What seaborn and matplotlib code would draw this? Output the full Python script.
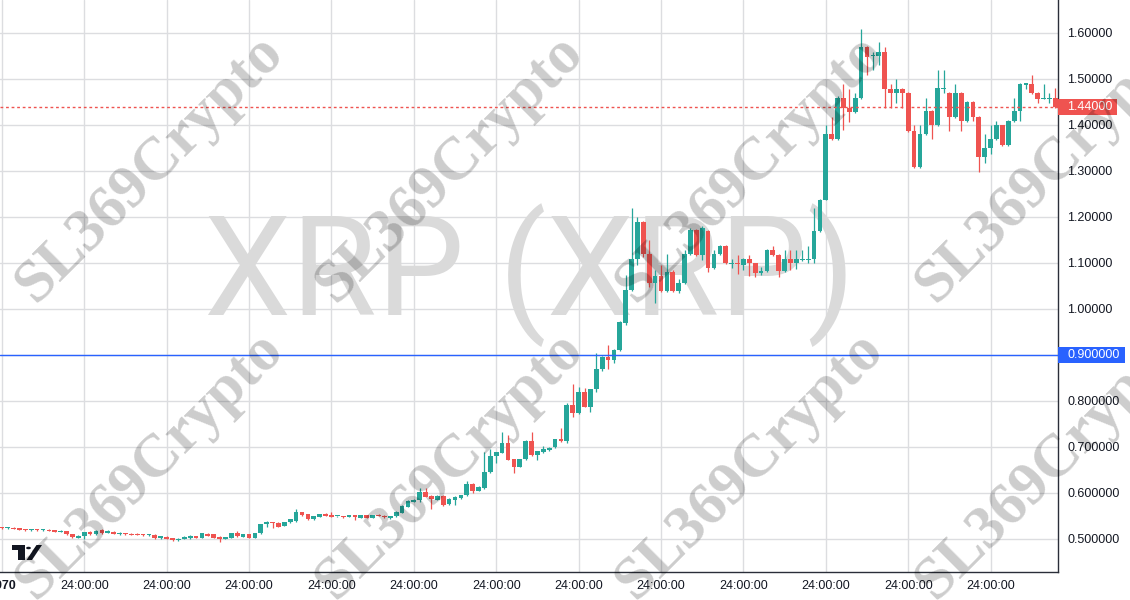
# XRP candle chart, TradingView look
import numpy as np
import pandas as pd
import matplotlib
matplotlib.use("Agg")
import matplotlib.pyplot as plt
import matplotlib.transforms as mtransforms
from matplotlib.patches import Rectangle, Polygon, Circle
import seaborn as sns

# data (one candle per slot)
opens = [
    .525, .523, .524, .523, .521, .519, .520, .519, .520, .519,
    .516, .517, .510, .503, .506, .515, .510, .519, .513, .516,
    .510, .513, .511, .511, .510, .508, .509, .502, .505, .502,
    .497, .500, .502, .506, .503, .511, .510, .505, .500, .503,
    .513, .505, .510, .503, .512, .532, .535, .535, .529, .536,
    .539, .558, .554, .544, .548, .555, .552, .549, .549, .548,
    .552, .546, .552, .546, .552, .551, .545, .549, .557, .570,
    .581, .585, .602, .593, .585, .594, .575, .585, .589, .595,
    .620, .605, .610, .645, .680, .688, .709, .673, .657, .673,
    .714, .682, .689, .693, .701, .718, .712, .792, .773, .820,
    .787, .825, .869, .895, .890, .910, .970, 1.041, 1.108, 1.189,
    1.119, 1.057, 1.072, 1.039, 1.081, 1.039, 1.056, 1.119, 1.171, 1.117,
    1.170, 1.090, 1.119, 1.138, 1.098, 1.100, 1.096, 1.108, 1.099, 1.078,
    1.082, 1.128, 1.118, 1.083, 1.108, 1.099, 1.106, 1.106, 1.108, 1.169,
    1.238, 1.380, 1.369, 1.459, 1.437, 1.428, 1.459, 1.570, 1.550, 1.549,
    1.559, 1.479, 1.469, 1.479, 1.469, 1.387, 1.308, 1.380, 1.431, 1.399,
    1.479, 1.470, 1.418, 1.470, 1.408, 1.450, 1.418, 1.330, 1.350, 1.370,
    1.399, 1.357, 1.409, 1.431, 1.488, 1.489, 1.469, 1.457, 1.457, 1.459,
]
highs = [
    .527, .527, .525, .524, .522, .522, .521, .521, .521, .520,
    .519, .518, .511, .508, .516, .517, .519, .521, .519, .517,
    .515, .514, .512, .512, .511, .511, .510, .507, .506, .503,
    .502, .506, .508, .507, .513, .512, .511, .506, .505, .514,
    .517, .511, .511, .514, .533, .539, .536, .536, .537, .544,
    .566, .559, .555, .550, .555, .556, .558, .551, .550, .553,
    .553, .553, .553, .553, .554, .553, .551, .560, .573, .585,
    .586, .610, .610, .595, .595, .595, .589, .593, .596, .625,
    .621, .615, .690, .696, .690, .733, .725, .674, .674, .716,
    .733, .692, .703, .699, .718, .742, .796, .838, .831, .828,
    .826, .904, .897, .921, .912, .974, 1.073, 1.219, 1.200, 1.191,
    1.150, 1.085, 1.095, 1.119, 1.085, 1.066, 1.128, 1.175, 1.173, 1.180,
    1.172, 1.128, 1.140, 1.140, 1.109, 1.118, 1.110, 1.118, 1.100, 1.092,
    1.130, 1.138, 1.119, 1.128, 1.128, 1.128, 1.128, 1.138, 1.219, 1.240,
    1.399, 1.418, 1.463, 1.489, 1.479, 1.469, 1.608, 1.572, 1.559, 1.580,
    1.570, 1.489, 1.499, 1.481, 1.471, 1.399, 1.399, 1.459, 1.433, 1.519,
    1.519, 1.472, 1.489, 1.472, 1.452, 1.452, 1.420, 1.380, 1.399, 1.408,
    1.401, 1.411, 1.459, 1.491, 1.491, 1.509, 1.471, 1.489, 1.469, 1.480,
]
lows = [
    .522, .521, .521, .519, .518, .518, .518, .518, .517, .515,
    .515, .509, .502, .502, .500, .509, .509, .511, .512, .510,
    .509, .509, .508, .508, .507, .507, .500, .501, .500, .495,
    .496, .499, .501, .502, .502, .506, .502, .494, .499, .502,
    .505, .504, .502, .502, .511, .527, .524, .526, .528, .535,
    .536, .551, .542, .541, .547, .549, .547, .547, .546, .547,
    .541, .545, .545, .545, .550, .546, .544, .548, .556, .569,
    .580, .581, .591, .566, .584, .572, .574, .574, .588, .594,
    .599, .604, .609, .644, .666, .687, .671, .644, .656, .672,
    .681, .672, .688, .692, .698, .711, .708, .766, .772, .787,
    .776, .819, .866, .870, .882, .908, .966, 1.040, 1.095, 1.113,
    1.048, 1.012, 1.037, 1.037, 1.037, 1.035, 1.055, 1.117, 1.115, 1.106,
    1.081, 1.088, 1.117, 1.097, 1.089, 1.077, 1.085, 1.072, 1.070, 1.073,
    1.080, 1.116, 1.069, 1.081, 1.085, 1.087, 1.104, 1.100, 1.099, 1.167,
    1.236, 1.367, 1.367, 1.389, 1.407, 1.426, 1.457, 1.508, 1.519, 1.530,
    1.438, 1.438, 1.448, 1.438, 1.385, 1.306, 1.306, 1.378, 1.369, 1.397,
    1.469, 1.388, 1.416, 1.388, 1.406, 1.408, 1.298, 1.318, 1.338, 1.368,
    1.355, 1.355, 1.407, 1.408, 1.479, 1.467, 1.448, 1.456, 1.448, 1.438,
]
closes = [
    .523, .525, .522, .520, .519, .520, .519, .520, .518, .516,
    .518, .510, .504, .507, .515, .510, .518, .512, .517, .511,
    .514, .510, .509, .509, .509, .510, .502, .506, .501, .497,
    .501, .505, .507, .503, .512, .507, .503, .500, .504, .513,
    .506, .510, .503, .513, .532, .536, .534, .527, .536, .543,
    .558, .552, .543, .549, .554, .550, .548, .550, .548, .552,
    .548, .552, .546, .552, .551, .547, .550, .559, .572, .582,
    .585, .602, .592, .586, .594, .573, .588, .592, .595, .620,
    .605, .614, .645, .680, .689, .709, .672, .657, .673, .714,
    .682, .691, .696, .698, .717, .712, .792, .773, .820, .788,
    .825, .869, .895, .890, .911, .972, 1.041, 1.108, 1.189, 1.119,
    1.057, 1.072, 1.039, 1.081, 1.039, 1.057, 1.119, 1.172, 1.117, 1.177,
    1.090, 1.119, 1.138, 1.099, 1.100, 1.097, 1.108, 1.099, 1.078, 1.083,
    1.128, 1.118, 1.083, 1.108, 1.099, 1.108, 1.109, 1.109, 1.169, 1.238,
    1.380, 1.369, 1.459, 1.437, 1.428, 1.459, 1.570, 1.548, 1.552, 1.559,
    1.479, 1.469, 1.479, 1.469, 1.387, 1.308, 1.380, 1.431, 1.399, 1.480,
    1.481, 1.418, 1.470, 1.408, 1.450, 1.418, 1.330, 1.350, 1.370, 1.399,
    1.357, 1.409, 1.431, 1.489, 1.490, 1.469, 1.457, 1.459, 1.459, 1.440,
]

price_ticks = [0.5, 0.6, 0.7, 0.8, 0.9, 1.0, 1.1, 1.2, 1.3, 1.4, 1.5, 1.6]
price_labels = ["0.500000", "0.600000", "0.700000", "0.800000", "0.900000",
                "1.00000", "1.10000", "1.20000", "1.30000", "1.40000",
                "1.50000", "1.60000"]
time_ticks = list(range(0, 169, 14))
time_labels = ["1970"] + ["24:00:00"] * 12

last_price = 1.44
last_label = "1.44000"
level_price = 0.9
level_label = "0.900000"
title = "XRP (XRP)"
watermark = "SL369Crypto"

UP = "#26A69A"
DOWN = "#EF5350"
BLUE = "#2962FF"
INK = "#131722"

df = pd.DataFrame({"open": opens, "high": highs, "low": lows, "close": closes})
df["x"] = np.arange(len(df))
df["up"] = df["close"] >= df["open"]

sns.set_style("white")
plt.rcParams["font.family"] = ["Liberation Sans", "DejaVu Sans"]

W, H = 1130, 600
fig = plt.figure(figsize=(W / 100, H / 100), dpi=100)
fig.patch.set_facecolor("white")
ax = fig.add_axes([0, 28 / H, 1058 / W, 572 / H])

ax.set_xlim(-0.31, 179.45)
ax.set_ylim(1.6717 - 572 / 460, 1.6717)

# grid
ax.set_xticks(time_ticks)
ax.set_xticklabels(time_labels)
ax.set_yticks(price_ticks)
ax.set_yticklabels(price_labels)
ax.yaxis.tick_right()
ax.grid(True, color="#DCDDE0", linewidth=1.0, zorder=0)
ax.set_axisbelow(True)
ax.tick_params(axis="both", length=0, labelsize=9, colors=INK)
ax.tick_params(axis="y", pad=6.5)
ax.tick_params(axis="x", pad=6)
ax.get_xticklabels()[0].set_fontweight("bold")
for side in ["top", "left"]:
    ax.spines[side].set_visible(False)
for side in ["right", "bottom"]:
    ax.spines[side].set_color("#2A2E39")
    ax.spines[side].set_linewidth(1.0)

# big symbol text behind candles
ax.text(530 / W, 1 - 275 / H, title, transform=fig.transFigure,
        ha="center", va="center", fontsize=100, color="#DADADA",
        family=["Roboto", "DejaVu Sans"], zorder=1)

# candles
cols = np.where(df["up"], UP, DOWN)
ax.vlines(df["x"], df["low"], df["high"], colors=cols, linewidth=0.9, zorder=3)
body_lo = np.minimum(df["open"], df["close"])
body_h = np.maximum((df["close"] - df["open"]).abs(), 0.0022)
ax.bar(df["x"], body_h, bottom=body_lo, width=0.8, color=cols,
       linewidth=0, zorder=4)

# price lines
ax.axhline(last_price, color=DOWN, linewidth=1.0, linestyle=(0, (2, 2)), zorder=5)
ax.axhline(level_price, color=BLUE, linewidth=1.0, zorder=5)

trans = mtransforms.blended_transform_factory(ax.transAxes, ax.transData)
box_h = 16 / 460
for val, txt, colr, wpx in [(last_price, last_label, DOWN, 59),
                            (level_price, level_label, BLUE, 67)]:
    ax.add_patch(Rectangle((1.0, val - box_h / 2), wpx / 1058, box_h,
                           transform=trans, facecolor=colr, edgecolor="none",
                           clip_on=False, zorder=6))
    ax.text(1.0 + 9 / 1058, val, txt, transform=trans, color="white",
            fontsize=9, va="center", ha="left", clip_on=False, zorder=7)

# tradingview logo
def fp(x, y):
    return (x / W, 1 - y / H)

logo = [
    Polygon([fp(12, 545), fp(25, 545), fp(25, 560), fp(17.5, 560),
             fp(17.5, 549.5), fp(12, 549.5)], closed=True),
    Circle(fp(28.5, 548), 2.4 / W),
    Polygon([fp(26.5, 560), fp(32, 560), fp(42, 545), fp(36.5, 545)], closed=True),
]
for p in logo:
    p.set_transform(fig.transFigure)
    p.set_facecolor(INK)
    p.set_edgecolor("none")
    fig.add_artist(p)

# watermarks on top
for cx in [150, 450, 750, 1050]:
    for cy in [168, 465]:
        fig.text(cx / W, 1 - cy / H, watermark, rotation=45,
                 rotation_mode="anchor", ha="center", va="center",
                 fontsize=44, fontweight="bold",
                 family=["Liberation Serif", "DejaVu Serif"],
                 color="black", alpha=0.2, zorder=10)

fig.savefig("out.png", dpi=100)
